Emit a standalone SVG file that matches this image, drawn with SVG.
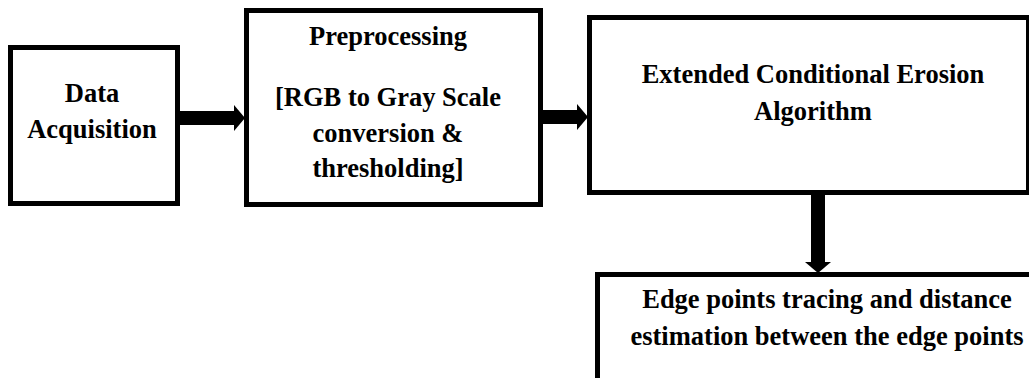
<svg xmlns="http://www.w3.org/2000/svg" width="1029" height="378" viewBox="0 0 1029 378">
<style>
.box{fill:#fff;stroke:#000;stroke-width:5}
.lbl{font-family:"Liberation Serif","Times New Roman",serif;font-weight:bold;font-size:26.5px;fill:#000;text-anchor:middle}
.conn{stroke:#000;stroke-width:14;fill:none}
</style>
<defs>
<marker id="ah" markerUnits="userSpaceOnUse" markerWidth="11" markerHeight="27" refX="0" refY="13" orient="auto" viewBox="0 0 11 27">
<path d="M0,0 L11,13 L0,26 Z" fill="#000"/>
</marker>
</defs>
<rect width="1029" height="378" fill="#fff"/>
<g id="connectors">
<line class="conn" x1="179" y1="118" x2="234" y2="118" marker-end="url(#ah)"/>
<line class="conn" x1="542" y1="117" x2="577" y2="117" marker-end="url(#ah)"/>
<line class="conn" x1="818" y1="194" x2="818" y2="262" marker-end="url(#ah)"/>
</g>
<g id="data-acquisition">
<rect class="box" x="10.5" y="47.5" width="167" height="156"/>
<text class="lbl" x="92" y="102">Data</text>
<text class="lbl" x="92" y="138">Acquisition</text>
</g>
<g id="preprocessing">
<rect class="box" x="246.5" y="10.5" width="294" height="194"/>
<text class="lbl" x="388" y="45">Preprocessing</text>
<text class="lbl" x="388" y="106">[RGB to Gray Scale</text>
<text class="lbl" x="388" y="142">conversion &amp;</text>
<text class="lbl" x="388" y="177">thresholding]</text>
</g>
<g id="erosion">
<rect class="box" x="589.5" y="17.5" width="439" height="175"/>
<text class="lbl" x="813" y="83">Extended Conditional Erosion</text>
<text class="lbl" x="813" y="120">Algorithm</text>
</g>
<g id="edge-tracing">
<rect class="box" x="597.5" y="274.5" width="500" height="200"/>
<text class="lbl" x="827" y="308">Edge points tracing and distance</text>
<text class="lbl" x="827" y="345">estimation between the edge points</text>
</g>
</svg>
